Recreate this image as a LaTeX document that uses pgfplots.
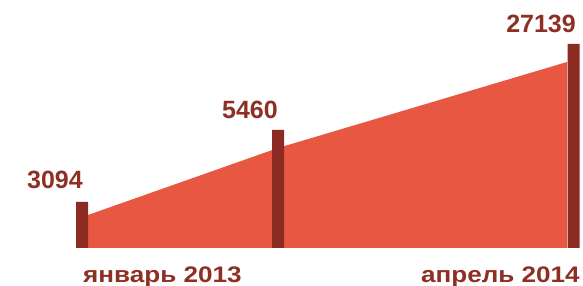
\documentclass[border=0pt]{standalone}
\usepackage{fontspec}
\setmainfont{Liberation Sans}
\usepackage{pgfplots}
\pgfplotsset{compat=1.18}
\definecolor{areared}{HTML}{E75742}
\definecolor{barred}{HTML}{8C2B22}
\definecolor{txtred}{HTML}{8E2F24}
\tikzset{lbl/.style={font=\fontsize{25}{30}\selectfont\bfseries, text=txtred, inner sep=0pt},
         blbl/.style={font=\fontsize{22.5}{27}\selectfont\bfseries, text=txtred, inner sep=0pt, xscale=1.16}}
\begin{document}
\begin{tikzpicture}
\begin{axis}[
  hide axis, scale only axis,
  width=583pt, height=286pt,
  xmin=0, xmax=583, ymin=-38, ymax=248,
  clip=false,
]
% area
\addplot[fill=areared, draw=none] coordinates {(88,0) (88,33) (278,100) (567,186) (567,0)} -- cycle;
% bars
\addplot[ybar, bar width=12, bar shift=0pt, fill=barred, draw=none] coordinates {(82,46) (278,118) (573.5,204)};
\node[lbl, anchor=base east] at (axis cs:83,59) {3094};
\node[lbl, anchor=base east] at (axis cs:278,129) {5460};
\node[lbl, anchor=base east] at (axis cs:576,215) {27139};
\node[blbl, anchor=base west] at (axis cs:83,-35) {январь 2013};
\node[blbl, anchor=base east] at (axis cs:580,-35) {апрель 2014};
\end{axis}
\pgfresetboundingbox
\useasboundingbox (current axis.south west) rectangle (current axis.north east);
\end{tikzpicture}
\end{document}
